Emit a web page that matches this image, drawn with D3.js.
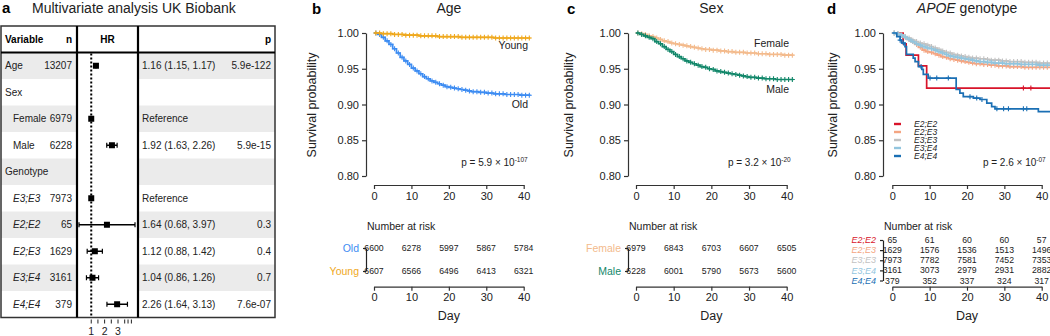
<!DOCTYPE html>
<html>
<head>
<meta charset="utf-8">
<script src="https://cdn.jsdelivr.net/npm/d3@7"></script>
<style>
  body { margin: 0; background: #fff; }
  svg { font-family: "Liberation Sans", Arial, Helvetica, sans-serif; }
</style>
</head>
<body>
<svg id="fig" width="1050" height="336"></svg>
<script>
// ---- panel a: multivariate table ----
var rowLabels = ["Age", "Sex", "Female", "Male", "Genotype", "E3;E3", "E2;E2", "E2;E3", "E3;E4", "E4;E4"];
var rowLevel  = [0, 0, 1, 1, 0, 1, 1, 1, 1, 1];
var rowN      = ["13207", "", "6979", "6228", "", "7973", "65", "1629", "3161", "379"];
var hrEst     = [1.16, null, 1, 1.92, null, 1, 1.64, 1.12, 1.04, 2.26];
var hrLow     = [1.15, null, null, 1.63, null, null, 0.68, 0.88, 0.86, 1.64];
var hrHigh    = [1.17, null, null, 2.26, null, null, 3.97, 1.42, 1.26, 3.13];
var hrText    = ["1.16 (1.15, 1.17)", "", "Reference", "1.92 (1.63, 2.26)", "", "Reference",
                 "1.64 (0.68, 3.97)", "1.12 (0.88, 1.42)", "1.04 (0.86, 1.26)", "2.26 (1.64, 3.13)"];
var pText     = ["5.9e-122", "", "", "5.9e-15", "", "", "0.3", "0.4", "0.7", "7.6e-07"];
var hrAxisTicks  = [1, 1.5, 2, 2.5, 3, 3.5, 3.75, 4];
var hrAxisLabels = [1, 2, 3];

// ---- survival curves ----
var kmDays = [0,1,2,3,4,5,6,7,8,9,10,11,12,13,14,15,16,17,18,19,20,21,22,23,24,25,26,27,28,29,30,31,32,33,34,35,36,37,38,39,40,41];
var survOld = [1.000,0.998,0.994,0.989,0.984,0.978,0.972,0.966,0.961,0.956,0.951,0.947,0.943,0.939,0.936,0.933,0.931,0.929,0.927,0.925,0.924,0.923,0.922,0.921,0.920,0.919,0.918,0.918,0.917,0.917,0.916,0.916,0.915,0.915,0.915,0.914,0.914,0.914,0.914,0.913,0.913,0.913];
var survYoung = [1.000,1.000,0.999,0.999,0.999,0.998,0.998,0.998,0.997,0.997,0.997,0.997,0.996,0.996,0.996,0.996,0.996,0.995,0.995,0.995,0.995,0.995,0.995,0.994,0.994,0.994,0.994,0.994,0.994,0.994,0.994,0.994,0.993,0.993,0.993,0.993,0.993,0.993,0.993,0.993,0.993,0.993];
var survFemale = [1.000,0.999,0.998,0.996,0.995,0.993,0.991,0.989,0.988,0.986,0.985,0.984,0.983,0.982,0.981,0.980,0.979,0.978,0.977,0.977,0.976,0.976,0.975,0.975,0.974,0.974,0.973,0.973,0.973,0.972,0.972,0.972,0.971,0.971,0.971,0.970,0.970,0.970,0.970,0.969,0.969,0.969];
var survMale = [1.000,0.998,0.996,0.994,0.992,0.988,0.985,0.981,0.977,0.974,0.970,0.967,0.964,0.961,0.959,0.957,0.955,0.953,0.952,0.950,0.949,0.947,0.946,0.945,0.944,0.943,0.942,0.941,0.940,0.939,0.938,0.938,0.937,0.937,0.936,0.936,0.936,0.935,0.935,0.935,0.935,0.935];
var survE3E3 = [1.000,0.999,0.997,0.995,0.993,0.990,0.988,0.986,0.985,0.983,0.981,0.979,0.977,0.975,0.973,0.972,0.970,0.969,0.968,0.967,0.966,0.965,0.965,0.964,0.964,0.963,0.962,0.962,0.962,0.961,0.961,0.960,0.960,0.960,0.960,0.959,0.959,0.959,0.959,0.958,0.958,0.958];
var survE3E4 = [1.000,0.999,0.997,0.994,0.991,0.988,0.985,0.983,0.981,0.979,0.978,0.976,0.974,0.972,0.970,0.968,0.967,0.966,0.965,0.964,0.963,0.962,0.961,0.960,0.960,0.959,0.959,0.958,0.958,0.958,0.957,0.957,0.957,0.957,0.956,0.956,0.956,0.956,0.956,0.955,0.955,0.955];
var survE2E3 = [1.000,0.999,0.997,0.994,0.991,0.988,0.984,0.980,0.976,0.974,0.973,0.971,0.969,0.967,0.966,0.964,0.963,0.962,0.961,0.960,0.959,0.958,0.957,0.957,0.956,0.956,0.955,0.955,0.954,0.954,0.954,0.953,0.953,0.953,0.953,0.952,0.952,0.952,0.952,0.952,0.952,0.952];
var timesE2E2 = [0, 2.9, 3.7, 7.0, 9.2];
var survE2E2  = [1.000, 0.985, 0.969, 0.954, 0.923];
var censE2E2  = [35.1, 37.1];
var timesE4E4 = [0, 1.2, 2.1, 2.5, 3.4, 3.8, 5.6, 6.1, 7.0, 7.9, 8.3, 9.6, 17.1, 18.1, 19.0, 21.7, 23.5, 25.3, 26.6, 27.5, 39.1];
var survE4E4  = [1.000, 0.995, 0.990, 0.986, 0.981, 0.970, 0.965, 0.960, 0.953, 0.949, 0.942, 0.937, 0.921, 0.916, 0.911, 0.909, 0.907, 0.902, 0.897, 0.894, 0.890];
var censE4E4  = [2.1, 3.0, 7.7, 10.1, 11.9, 15.0, 20.8, 22.6, 24.0, 28.0, 29.8, 31.1, 35.1, 36.0];

// ---- numbers at risk ----
var riskDays = [0, 10, 20, 30, 40];
var riskOld    = [6600, 6278, 5997, 5867, 5784];
var riskYoung  = [6607, 6566, 6496, 6413, 6321];
var riskFemale = [6979, 6843, 6703, 6607, 6505];
var riskMale   = [6228, 6001, 5790, 5673, 5600];
var riskE2E2 = [65, 61, 60, 60, 57];
var riskE2E3 = [1629, 1576, 1536, 1513, 1496];
var riskE3E3 = [7973, 7782, 7581, 7452, 7353];
var riskE3E4 = [3161, 3073, 2979, 2931, 2882];
var riskE4E4 = [379, 352, 337, 324, 317];

var dayTicks = [0, 10, 20, 30, 40];
var survTicks = [0.80, 0.85, 0.90, 0.95, 1.00];

var svg = d3.select('#fig');
var ink = '#222';

// ================= panel a =================
svg.append('text').attr('x', 2).attr('y', 13).attr('font-size', 15).attr('font-weight', 'bold').text('a');
svg.append('text').attr('x', 32).attr('y', 12.5).attr('font-size', 14).attr('fill', ink)
   .text('Multivariate analysis UK Biobank');

var tTop = 26, tHead = 52.5, rowH = 26.5, tLeft = 1, tRight = 275;
var div1 = 77, div2 = 138;
var tBottom = tHead + rowH * rowLabels.length;
var tbl = svg.append('g');

rowLabels.forEach(function(d, i) {
  if (i % 2) return;
  var y0 = tHead + i * rowH;
  tbl.append('rect').attr('x', tLeft).attr('y', y0).attr('width', div1 - tLeft).attr('height', rowH).attr('fill', '#ebebeb');
  tbl.append('rect').attr('x', div2).attr('y', y0).attr('width', tRight - div2).attr('height', rowH).attr('fill', '#ebebeb');
});

// header
var hy = (tTop + tHead) / 2 + 3.5;
tbl.append('text').attr('x', 5).attr('y', hy).attr('font-size', 10).attr('font-weight', 'bold').text('Variable');
tbl.append('text').attr('x', 72).attr('y', hy).attr('font-size', 10).attr('font-weight', 'bold').attr('text-anchor', 'end').text('n');
tbl.append('text').attr('x', (div1 + div2) / 2).attr('y', hy).attr('font-size', 10).attr('font-weight', 'bold').attr('text-anchor', 'middle').text('HR');
tbl.append('text').attr('x', 271).attr('y', hy).attr('font-size', 10).attr('font-weight', 'bold').attr('text-anchor', 'end').text('p');

var rowY = function(i) { return tHead + i * rowH + rowH / 2; };
var rows = tbl.selectAll('.row').data(rowLabels).enter().append('g').attr('class', 'row');
rows.append('text')
  .attr('x', function(d, i) { return rowLevel[i] ? 13 : 5; })
  .attr('y', function(d, i) { return rowY(i) + 3.5; })
  .attr('font-size', 10).attr('fill', ink)
  .attr('font-style', function(d) { return /^E\d;E\d$/.test(d) ? 'italic' : 'normal'; })
  .text(function(d) { return d; });
rows.append('text')
  .attr('x', 72).attr('y', function(d, i) { return rowY(i) + 3.5; })
  .attr('font-size', 10).attr('fill', ink).attr('text-anchor', 'end')
  .text(function(d, i) { return rowN[i]; });
rows.append('text')
  .attr('x', 142).attr('y', function(d, i) { return rowY(i) + 3.5; })
  .attr('font-size', 10).attr('fill', ink)
  .text(function(d, i) { return hrText[i]; });
rows.append('text')
  .attr('x', 271).attr('y', function(d, i) { return rowY(i) + 3.5; })
  .attr('font-size', 10).attr('fill', ink).attr('text-anchor', 'end')
  .text(function(d, i) { return pText[i]; });

// forest
var xHR = d3.scaleLog().domain([0.68, 3.97]).range([79, 135]);
tbl.append('line').attr('x1', xHR(1)).attr('x2', xHR(1)).attr('y1', tHead + 1).attr('y2', tBottom)
   .attr('stroke', '#000').attr('stroke-width', 2).attr('stroke-dasharray', '2,2');

rows.each(function(d, i) {
  var g = d3.select(this), y = rowY(i);
  if (hrLow[i] !== null) {
    g.append('line').attr('x1', xHR(hrLow[i])).attr('x2', xHR(hrHigh[i])).attr('y1', y).attr('y2', y)
      .attr('stroke', '#000').attr('stroke-width', 1.5);
    [hrLow[i], hrHigh[i]].forEach(function(v) {
      g.append('line').attr('x1', xHR(v)).attr('x2', xHR(v)).attr('y1', y - 2.5).attr('y2', y + 2.5)
        .attr('stroke', '#000').attr('stroke-width', 1.2);
    });
  }
  if (hrEst[i] !== null) {
    g.append('rect').attr('x', xHR(hrEst[i]) - 3).attr('y', y - 3)
      .attr('width', 6).attr('height', 6).attr('fill', '#000');
  }
});

// forest axis
var xHRAxis = d3.scaleLinear().domain([1, 3]).range([xHR(1), 118]);
var fax = tbl.append('g');
fax.selectAll('line').data(hrAxisTicks).enter().append('line')
  .attr('x1', function(d) { return xHRAxis(d); }).attr('x2', function(d) { return xHRAxis(d); })
  .attr('y1', tBottom + 2).attr('y2', tBottom + 6).attr('stroke', ink).attr('stroke-width', 1);
fax.selectAll('text').data(hrAxisLabels).enter().append('text')
  .attr('x', function(d) { return xHRAxis(d); }).attr('y', tBottom + 17.5)
  .attr('font-size', 10.5).attr('text-anchor', 'middle').attr('fill', ink).text(function(d) { return d; });

// borders
tbl.append('rect').attr('x', tLeft).attr('y', tTop).attr('width', tRight - tLeft).attr('height', tBottom - tTop)
   .attr('fill', 'none').attr('stroke', '#333').attr('stroke-width', 1.5);
tbl.append('line').attr('x1', tLeft).attr('x2', tRight).attr('y1', tHead).attr('y2', tHead).attr('stroke', '#000').attr('stroke-width', 2.2);
[div1, div2].forEach(function(x) {
  tbl.append('line').attr('x1', x).attr('x2', x).attr('y1', tTop).attr('y2', tBottom).attr('stroke', '#000').attr('stroke-width', 2.2);
});

// ================= KM panels =================
function styleAxis(g, size) {
  g.select('.domain').attr('stroke', '#333').attr('stroke-width', 1.2);
  g.selectAll('.tick line').attr('stroke', '#333').attr('stroke-width', 1.2);
  g.selectAll('.tick text').attr('fill', ink).attr('font-size', size);
  g.attr('font-family', null);
}

function stepValue(times, surv, t) {
  var i = d3.bisectRight(times, t) - 1;
  return surv[Math.max(0, i)];
}

var panels = [
  { letter: 'b', letterX: 312, title: [{ t: 'Age' }], x0: 374, x40: 523.7, yAxisX: 366, ylabX: 316, endDay: 41.8,
    groups: [
      { name: 'Old', color: '#3d8cf2', times: kmDays, surv: survOld, risk: riskOld, label: [528, 108] },
      { name: 'Young', color: '#efa81c', times: kmDays, surv: survYoung, risk: riskYoung, label: [528, 49] }
    ],
    pval: ['5.9', '-107'], riskRange: [248, 271], riskItalic: false, riskLabelSize: 10.5 },
  { letter: 'c', letterX: 567, title: [{ t: 'Sex' }], x0: 636, x40: 786.7, yAxisX: 628, ylabX: 573, endDay: 41.8,
    groups: [
      { name: 'Female', color: '#f3ba8c', times: kmDays, surv: survFemale, risk: riskFemale, label: [789, 47] },
      { name: 'Male', color: '#12876a', times: kmDays, surv: survMale, risk: riskMale, label: [789, 93] }
    ],
    pval: ['3.2', '-20'], riskRange: [248, 271], riskItalic: false, riskLabelSize: 10.5 },
  { letter: 'd', letterX: 827, title: [{ t: 'APOE', it: true }, { t: ' genotype' }], x0: 892.3, x40: 1041.7, yAxisX: 883, ylabX: 837, endDay: 42.5,
    groups: [
      { name: 'E2;E2', color: '#d8142a', times: timesE2E2, surv: survE2E2, censor: censE2E2, risk: riskE2E2 },
      { name: 'E2;E3', color: '#f4a582', times: kmDays, surv: survE2E3, risk: riskE2E3 },
      { name: 'E3;E3', color: '#c2c2c2', times: kmDays, surv: survE3E3, risk: riskE3E3 },
      { name: 'E3;E4', color: '#92c5de', times: kmDays, surv: survE3E4, risk: riskE3E4 },
      { name: 'E4;E4', color: '#1a6fb4', times: timesE4E4, surv: survE4E4, censor: censE4E4, risk: riskE4E4 }
    ],
    pval: ['2.6', '-07'], riskRange: [240, 280.5], riskItalic: true, riskLabelSize: 9, legend: true }
];

panels.forEach(function(p) {
  var g = svg.append('g');
  var x = d3.scaleLinear().domain([0, 40]).range([p.x0, p.x40]);
  var y = d3.scaleLinear().domain([0.8, 1]).range([176, 33]);
  var xc = x(20);

  g.append('text').attr('x', p.letterX).attr('y', 13.5).attr('font-size', 15).attr('font-weight', 'bold').text(p.letter);
  var tt = g.append('text').attr('x', xc).attr('y', 13).attr('font-size', 14).attr('text-anchor', 'middle').attr('fill', ink);
  p.title.forEach(function(part) {
    tt.append('tspan').attr('font-style', part.it ? 'italic' : 'normal').text(part.t);
  });

  // axes
  var ya = g.append('g').attr('transform', 'translate(' + p.yAxisX + ',0)')
    .call(d3.axisLeft(y).tickValues(survTicks).tickFormat(d3.format('.2f')).tickSize(4).tickSizeOuter(0).tickPadding(3));
  styleAxis(ya, 11);
  var xa = g.append('g').attr('transform', 'translate(0,185)')
    .call(d3.axisBottom(x).tickValues(dayTicks).tickSize(4).tickSizeOuter(0).tickPadding(3));
  styleAxis(xa, 11);
  g.append('text').attr('transform', 'translate(' + p.ylabX + ',105) rotate(-90)')
    .attr('text-anchor', 'middle').attr('font-size', 12.5).attr('fill', ink).text('Survival probability');

  // curves
  var line = d3.line().x(function(d) { return x(d[0]); }).y(function(d) { return y(d[1]); }).curve(d3.curveStepAfter);
  p.groups.forEach(function(grp) {
    var pts = grp.times.map(function(t, i) { return [t, grp.surv[i]]; });
    pts.push([p.endDay, grp.surv[grp.surv.length - 1]]);
    var cg = g.append('g');
    cg.append('path').datum(pts).attr('d', line).attr('fill', 'none')
      .attr('stroke', grp.color).attr('stroke-width', 1.7);
    var cens = grp.censor || grp.times.map(function(t) { return t + 0.5; });
    cg.selectAll('path.cens').data(cens).enter().append('path').attr('class', 'cens')
      .attr('transform', function(t) { return 'translate(' + x(t) + ',' + y(stepValue(grp.times, grp.surv, t)) + ')'; })
      .attr('d', 'M-2.5,0H2.5M0,-2.5V2.5').attr('stroke', grp.color).attr('stroke-width', 1.1);
    if (grp.label) {
      g.append('text').attr('x', grp.label[0]).attr('y', grp.label[1]).attr('text-anchor', 'end')
        .attr('font-size', 10.5).attr('fill', ink).text(grp.name);
    }
  });

  // legend
  if (p.legend) {
    p.groups.forEach(function(grp, i) {
      var ly = 124 + i * 8;
      g.append('line').attr('x1', 894).attr('x2', 901).attr('y1', ly).attr('y2', ly)
        .attr('stroke', grp.color).attr('stroke-width', 2.4);
      g.append('text').attr('x', 914).attr('y', ly + 3).attr('font-size', 8.5).attr('font-style', 'italic')
        .attr('fill', ink).text(grp.name);
    });
  }

  // p value
  var pt = g.append('text').attr('x', x(40) + 4).attr('y', 166).attr('text-anchor', 'end').attr('font-size', 10).attr('fill', ink);
  pt.append('tspan').text('p = ' + p.pval[0] + ' \u00d7 10');
  pt.append('tspan').attr('dy', -4).attr('font-size', 6.5).text(p.pval[1]);

  // risk table
  g.append('text').attr('x', p.yAxisX + 1).attr('y', 230).attr('font-size', 10.5).attr('fill', ink).text('Number at risk');
  var names = p.groups.map(function(d) { return d.name; });
  var ry = d3.scalePoint().domain(names).range(p.riskRange);
  var ra = g.append('g').attr('transform', 'translate(' + p.yAxisX + ',0)')
    .call(d3.axisLeft(ry).tickSize(3).tickSizeOuter(0).tickFormat(''));
  ra.select('.domain').attr('stroke', '#222').attr('stroke-width', 1.2);
  ra.selectAll('.tick line').attr('stroke', '#222').attr('stroke-width', 1.2);
  p.groups.forEach(function(grp) {
    g.append('text').attr('x', p.yAxisX - 7).attr('y', ry(grp.name) + p.riskLabelSize * 0.35).attr('text-anchor', 'end')
      .attr('font-size', p.riskLabelSize).attr('fill', grp.color).attr('font-style', p.riskItalic ? 'italic' : 'normal')
      .text(grp.name);
    g.selectAll(null).data(grp.risk).enter().append('text')
      .attr('x', function(d, i) { return x(riskDays[i]); }).attr('y', ry(grp.name) + 3)
      .attr('text-anchor', 'middle').attr('font-size', 8.7).attr('fill', ink)
      .text(function(d) { return d; });
  });
  var xa2 = g.append('g').attr('transform', 'translate(0,286.7)')
    .call(d3.axisBottom(x).tickValues(dayTicks).tickSize(4).tickSizeOuter(0).tickPadding(3));
  styleAxis(xa2, 11);
  g.append('text').attr('x', xc).attr('y', 319.5).attr('text-anchor', 'middle').attr('font-size', 12.5).attr('fill', ink).text('Day');
});
</script>
</body>
</html>
